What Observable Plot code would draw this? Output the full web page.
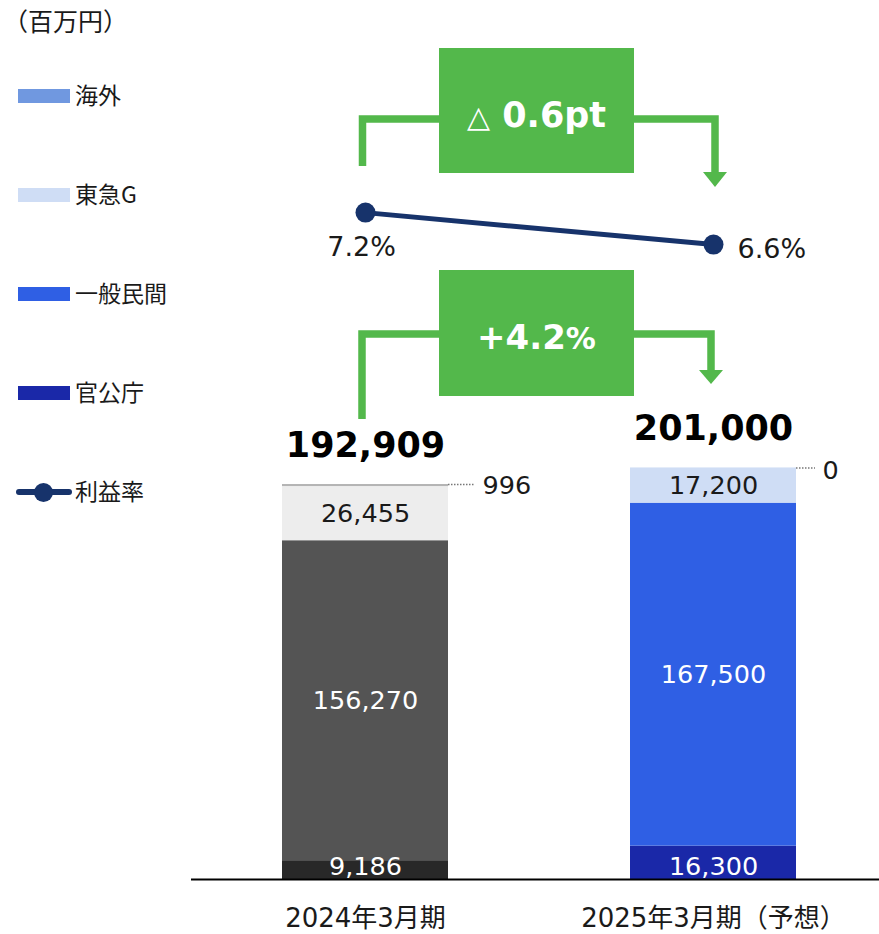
<!DOCTYPE html>
<html>
<head>
<meta charset="utf-8">
<script src="https://cdn.jsdelivr.net/npm/d3@7"></script>
<script src="https://cdn.jsdelivr.net/npm/@observablehq/plot@0.6"></script>
<style>
  html, body { margin: 0; padding: 0; background: #fff; }
  #wrap { position: relative; width: 879px; height: 934px; overflow: hidden; }
  #chart svg { display: block; }
  .lg { position: absolute; font-family: "Noto Sans CJK JP", "DejaVu Sans", sans-serif; font-size: 23px; color: #1a1a1a; line-height: 30px; white-space: nowrap; }
</style>
</head>
<body>
<div id="wrap">
  <div id="chart"></div>
</div>
<script>
// ---- data ----
const periods = ["2024年3月期", "2025年3月期（予想）"];
const segments = ["官公庁", "一般民間", "東急G", "海外"]; // bottom → top
const values2024 = [9186, 156270, 26455, 996];
const values2025 = [16300, 167500, 17200, 0];
const totalsShown = [192909, 201000]; // totals as printed in the chart
const rates = [7.2, 6.6]; // 利益率 (%)
const colors2024 = ["#282828", "#545454", "#ededed", "#b4b4b4"];
const colors2025 = ["#1a28a8", "#2f5fe4", "#cfddf5", "#7098e0"];
const legendTitle = "（百万円）";
const rateLabel = "利益率";

// ---- tables ----
const allValues = [values2024, values2025];
const allColors = [colors2024, colors2025];
const table = [];
periods.forEach((p, i) => segments.forEach((s, j) => table.push({
  period: p, pi: i, seg: s, value: allValues[i][j], color: allColors[i][j],
  light: s === "東急G"
})));
const totals = periods.map((p, i) => ({period: p, total: totalsShown[i]}));
const rateData = periods.map((p, i) => ({period: p, pi: i, rate: rates[i]}));
const fmt = d3.format(",");

// secondary (rate) axis mapped into the bar value domain
const rateToY = d3.scaleLinear().domain([6, 8]).range([294500, 346500]);

const FONT = "'DejaVu Sans', 'Noto Sans CJK JP', sans-serif";

const plot = Plot.plot({
  width: 879,
  height: 934,
  marginLeft: 191,
  marginRight: 0,
  marginTop: 0,
  marginBottom: 55,
  style: {fontFamily: FONT, background: "#fff", overflow: "visible"},
  x: {type: "band", domain: periods, range: [282, 796], paddingInner: 0.523, paddingOuter: 0, round: false, axis: null},
  y: {domain: [0, 429300], axis: null},
  marks: [
    Plot.barY(table, Plot.stackY({x: "period", y: "value", z: "seg", fill: "color", insetLeft: 0, insetRight: 0})),
    Plot.ruleY([0], {stroke: "#000", strokeWidth: 2}),
    // middle segment labels
    Plot.text(table, Plot.stackY({
      x: "period", y: "value", z: "seg",
      text: d => (d.seg === "一般民間" || d.seg === "東急G") ? fmt(d.value) : null,
      fill: d => d.light ? "#1a1a1a" : "#ffffff",
      fontSize: 25.5
    })),
    // bottom segment labels (官公庁)
    Plot.text(table.filter(d => d.seg === "官公庁"), {
      x: "period", y: 0, text: d => fmt(d.value), fill: "#ffffff",
      fontSize: 25.5, lineAnchor: "bottom", dy: -5
    }),
    // outside labels (海外)
    Plot.text(table, Plot.stackY2({
      x: "period", y: "value", z: "seg",
      text: d => (d.seg === "海外" && d.pi === 0) ? fmt(d.value) : null,
      textAnchor: "start", lineAnchor: "bottom", dx: 117, dy: 9, fontSize: 25.5, fill: "#1a1a1a"
    })),
    Plot.text(table, Plot.stackY2({
      x: "period", y: "value", z: "seg",
      text: d => (d.seg === "海外" && d.pi === 1) ? fmt(d.value) : null,
      textAnchor: "start", lineAnchor: "bottom", dx: 109, dy: 10.6, fontSize: 25.5, fill: "#1a1a1a"
    })),
    // totals
    Plot.text(totals, {
      x: "period", y: d => d3.sum(allValues[periods.indexOf(d.period)]), text: d => fmt(d.total),
      lineAnchor: "bottom", dy: -28, fontSize: 35, fontWeight: "bold", fill: "#000"
    }),
    // period labels
    Plot.text(periods, {
      x: d => d, y: 0, text: d => d, lineAnchor: "bottom", dy: 47, fontSize: 26, fill: "#1a1a1a"
    }),
    // 利益率 line
    Plot.line(rateData, {x: "period", y: d => rateToY(d.rate), stroke: "#17336b", strokeWidth: 5}),
    Plot.dot(rateData, {x: "period", y: d => rateToY(d.rate), r: 10, fill: "#17336b", stroke: "none"}),
    Plot.text(rateData.filter(d => d.pi === 0), {
      x: "period", y: d => rateToY(d.rate), text: d => d.rate.toFixed(1) + "%",
      lineAnchor: "bottom", dy: 43, dx: -4, fontSize: 27, fill: "#1a1a1a"
    }),
    Plot.text(rateData.filter(d => d.pi === 1), {
      x: "period", y: d => rateToY(d.rate), text: d => d.rate.toFixed(1) + "%",
      lineAnchor: "bottom", textAnchor: "start", dy: 13, dx: 24, fontSize: 27, fill: "#1a1a1a"
    })
  ]
});
document.getElementById("chart").appendChild(plot);

// ---- annotations (derived from the Plot scales) ----
const xs = plot.scale("x");
const ys = plot.scale("y");
const cx = periods.map(p => xs.apply(p) + xs.bandwidth / 2);
const svg = d3.select(plot);
const GREEN = "#53b84b";
const rateDiff = rates[1] - rates[0];
const salesChange = (totalsShown[1] / totalsShown[0] - 1) * 100;
const annotations = [
  {top: 48, h: 125, lineY: 119, leftEnd: 166, leftDx: -2.5, rightDx: 2, arrowTop: 172, tip: 187,
   parts: [{t: rateDiff < 0 ? "△" : "+", w: "normal", s: 30}, {t: " " + Math.abs(rateDiff).toFixed(1) + "pt", w: "bold", s: 35}]},
  {top: 270, h: 126, lineY: 334, leftEnd: 419, leftDx: -3, rightDx: -2, arrowTop: 370, tip: 384,
   parts: [{t: (salesChange >= 0 ? "+" : "△") + Math.abs(salesChange).toFixed(1), w: "bold", s: 34}, {t: "%", w: "bold", s: 30}]}
];
const boxW = 195;
const boxCx = (cx[0] + cx[1]) / 2 - 2.5;
const g = svg.append("g");
annotations.forEach(a => {
  const bx0 = boxCx - boxW / 2, bx1 = boxCx + boxW / 2;
  const lx = cx[0] + a.leftDx, rx = cx[1] + a.rightDx;
  g.append("path")
    .attr("d", `M${lx},${a.leftEnd}V${a.lineY}H${bx0 + 1}`)
    .attr("fill", "none").attr("stroke", GREEN).attr("stroke-width", 7.5).attr("stroke-linejoin", "miter");
  g.append("path")
    .attr("d", `M${bx1 - 1},${a.lineY}H${rx}V${a.arrowTop + 1}`)
    .attr("fill", "none").attr("stroke", GREEN).attr("stroke-width", 7.5).attr("stroke-linejoin", "miter");
  g.append("path")
    .attr("d", `M${rx - 12},${a.arrowTop}L${rx + 12},${a.arrowTop}L${rx},${a.tip}Z`)
    .attr("fill", GREEN);
  g.append("rect").attr("x", bx0).attr("y", a.top).attr("width", boxW).attr("height", a.h).attr("fill", GREEN);
  const t = g.append("text").attr("x", boxCx).attr("y", a.top + 79)
    .attr("text-anchor", "middle").attr("fill", "#fff").attr("font-family", FONT);
  a.parts.forEach(p => t.append("tspan").text(p.t).attr("font-weight", p.w).attr("font-size", p.s));
});

// dotted leaders for the 海外 values
const tops = periods.map((p, i) => d3.sum(allValues[i]));
const leaderLen = [26, 19];
periods.forEach((p, i) => {
  const x0 = xs.apply(p) + xs.bandwidth;
  const y0 = ys.apply(tops[i]) + 0.5;
  g.append("line").attr("x1", x0).attr("x2", x0 + leaderLen[i]).attr("y1", y0).attr("y2", y0)
    .attr("stroke", "#777").attr("stroke-width", 1.5).attr("stroke-dasharray", "1.5 1.5");
});

// ---- legend (HTML) ----
const wrap = document.getElementById("wrap");
const title = document.createElement("div");
title.className = "lg"; title.textContent = legendTitle;
title.style.left = "3px"; title.style.top = "5px"; title.style.fontSize = "25px";
wrap.appendChild(title);
const legendSegs = segments.slice().reverse(); // 海外, 東急G, 一般民間, 官公庁
const legendCols = colors2025.slice().reverse();
const rowCenters = [96, 195, 294, 393, 492];
legendSegs.forEach((s, i) => {
  const sw = document.createElement("div");
  sw.style.cssText = `position:absolute;left:18px;top:${rowCenters[i] - 7}px;width:52px;height:14px;background:${legendCols[i]}`;
  wrap.appendChild(sw);
  const tx = document.createElement("div");
  tx.className = "lg"; tx.textContent = s;
  tx.style.left = "75px"; tx.style.top = (rowCenters[i] - 17) + "px";
  wrap.appendChild(tx);
});
{
  const cyL = rowCenters[4];
  const ln = document.createElement("div");
  ln.style.cssText = `position:absolute;left:16px;top:${cyL - 3}px;width:56px;height:6px;border-radius:3px;background:#17336b`;
  wrap.appendChild(ln);
  const dot = document.createElement("div");
  dot.style.cssText = `position:absolute;left:${43 - 9.5}px;top:${cyL - 9.5}px;width:19px;height:19px;border-radius:50%;background:#17336b`;
  wrap.appendChild(dot);
  const tx = document.createElement("div");
  tx.className = "lg"; tx.textContent = rateLabel;
  tx.style.left = "75px"; tx.style.top = (cyL - 17) + "px";
  wrap.appendChild(tx);
}
</script>
</body>
</html>
